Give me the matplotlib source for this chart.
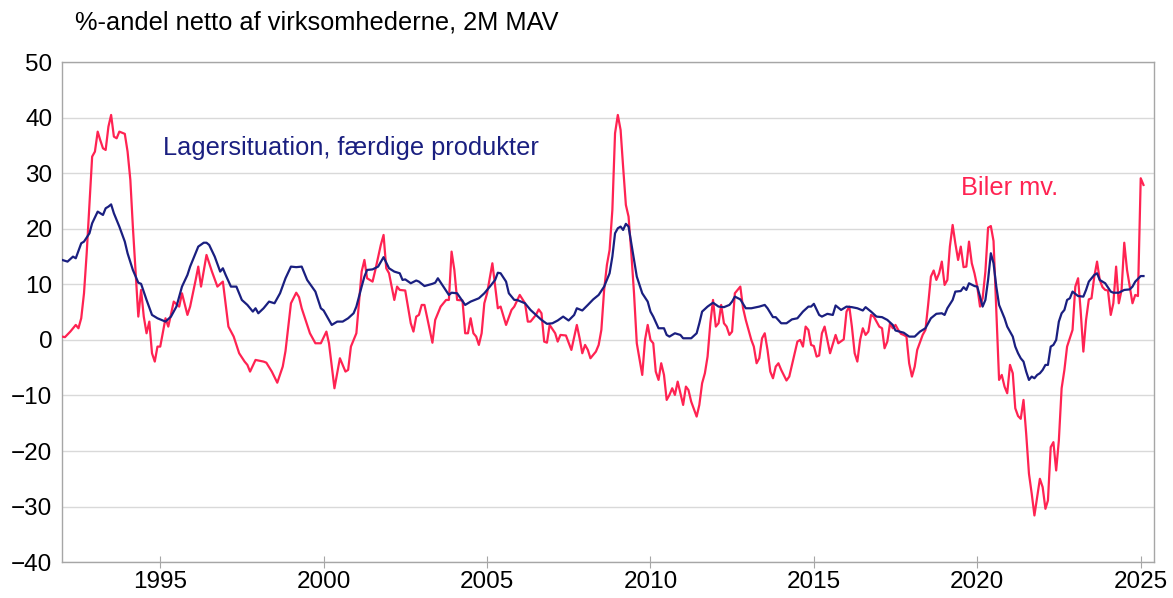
import pandas as pd
import matplotlib
matplotlib.use("Agg")
import matplotlib.pyplot as plt
import matplotlib.dates as mdates

# Lagersituation, faerdige produkter (month, net share %)
lager = [
    ("1992-01", 14.4), ("1992-03", 14.1), ("1992-05", 15.0), ("1992-06", 14.7), ("1992-08", 17.4), ("1992-09", 17.7), ("1992-11", 19.2), ("1992-12", 21.0),
    ("1993-02", 23.1), ("1993-04", 22.5), ("1993-05", 23.7), ("1993-06", 24.0), ("1993-07", 24.4), ("1993-08", 22.8), ("1993-10", 20.4), ("1993-12", 17.7),
    ("1994-01", 15.6), ("1994-03", 12.6), ("1994-05", 10.3), ("1994-06", 10.1), ("1994-08", 7.2), ("1994-10", 4.5), ("1994-12", 3.9),
    ("1995-03", 3.3), ("1995-05", 4.2), ("1995-07", 6.0), ("1995-09", 9.6), ("1995-11", 11.7), ("1995-12", 13.2),
    ("1996-03", 16.8), ("1996-05", 17.5), ("1996-06", 17.5), ("1996-07", 17.1), ("1996-09", 15.0), ("1996-11", 12.3), ("1996-12", 12.9),
    ("1997-01", 11.7), ("1997-03", 9.6), ("1997-05", 9.6), ("1997-07", 7.2), ("1997-09", 6.3), ("1997-11", 5.1), ("1997-12", 5.7),
    ("1998-01", 4.8), ("1998-03", 5.7), ("1998-05", 6.9), ("1998-07", 6.6), ("1998-09", 8.4), ("1998-11", 11.1),
    ("1999-01", 13.2), ("1999-03", 13.1), ("1999-05", 13.2), ("1999-07", 10.8), ("1999-10", 8.7), ("1999-12", 5.7),
    ("2000-01", 5.3), ("2000-04", 2.7), ("2000-06", 3.3), ("2000-08", 3.3), ("2000-10", 3.9), ("2000-12", 4.8),
    ("2001-01", 6.0), ("2001-03", 9.6), ("2001-04", 11.4), ("2001-05", 12.6), ("2001-07", 12.7), ("2001-09", 13.2), ("2001-11", 14.9),
    ("2002-01", 12.9), ("2002-03", 12.3), ("2002-05", 12.0), ("2002-06", 10.8), ("2002-07", 10.9), ("2002-09", 10.2), ("2002-11", 10.7), ("2002-12", 10.5),
    ("2003-02", 9.7), ("2003-05", 10.1), ("2003-06", 10.3), ("2003-07", 11.1), ("2003-09", 9.6), ("2003-11", 8.1), ("2003-12", 8.5),
    ("2004-02", 8.4), ("2004-05", 6.3), ("2004-07", 6.9), ("2004-10", 7.5), ("2004-12", 8.4),
    ("2005-02", 9.6), ("2005-04", 10.8), ("2005-05", 12.1), ("2005-06", 12.0), ("2005-08", 10.5), ("2005-09", 8.4), ("2005-11", 7.2), ("2005-12", 7.2),
    ("2006-03", 6.6), ("2006-05", 5.4), ("2006-07", 4.5), ("2006-09", 3.6), ("2006-11", 2.9),
    ("2007-01", 3.0), ("2007-03", 3.5), ("2007-05", 4.2), ("2007-07", 3.5), ("2007-09", 4.5), ("2007-10", 5.7), ("2007-12", 5.3),
    ("2008-02", 6.3), ("2008-04", 7.3), ("2008-06", 8.1), ("2008-08", 9.6), ("2008-10", 12.0), ("2008-11", 15.0), ("2008-12", 19.2),
    ("2009-01", 20.1), ("2009-02", 20.4), ("2009-03", 19.8), ("2009-04", 20.9), ("2009-05", 20.4), ("2009-06", 17.4), ("2009-07", 14.4), ("2009-08", 11.4), ("2009-10", 8.4), ("2009-12", 6.9),
    ("2010-01", 5.1), ("2010-02", 4.2), ("2010-04", 2.1), ("2010-06", 2.1), ("2010-07", 0.9), ("2010-08", 0.6), ("2010-10", 1.2), ("2010-12", 0.9),
    ("2011-01", 0.3), ("2011-04", 0.3), ("2011-06", 1.2), ("2011-07", 3.0), ("2011-08", 5.1), ("2011-10", 6.0), ("2011-12", 6.7),
    ("2012-02", 6.0), ("2012-04", 5.9), ("2012-06", 6.3), ("2012-07", 6.9), ("2012-08", 7.8), ("2012-10", 7.3), ("2012-12", 5.7),
    ("2013-02", 5.7), ("2013-05", 6.0), ("2013-07", 6.3), ("2013-08", 5.7), ("2013-10", 4.1), ("2013-11", 4.1),
    ("2014-01", 3.0), ("2014-03", 3.0), ("2014-05", 3.7), ("2014-07", 3.9), ("2014-09", 5.1), ("2014-11", 6.0), ("2014-12", 6.0),
    ("2015-01", 6.5), ("2015-03", 4.5), ("2015-04", 4.2), ("2015-06", 4.7), ("2015-08", 4.5), ("2015-09", 6.2), ("2015-11", 5.4),
    ("2016-01", 6.0), ("2016-03", 5.9), ("2016-05", 5.7), ("2016-07", 5.3), ("2016-08", 5.9), ("2016-10", 5.1), ("2016-12", 4.2),
    ("2017-02", 4.1), ("2017-04", 3.6), ("2017-06", 2.7), ("2017-07", 1.7), ("2017-10", 1.3), ("2017-12", 0.6),
    ("2018-02", 0.6), ("2018-04", 1.5), ("2018-06", 2.1), ("2018-07", 3.0), ("2018-08", 3.9), ("2018-10", 4.7), ("2018-12", 4.8),
    ("2019-01", 4.5), ("2019-02", 5.7), ("2019-04", 7.2), ("2019-05", 8.7), ("2019-07", 8.8), ("2019-08", 9.5), ("2019-09", 9.0), ("2019-10", 10.2), ("2019-12", 9.7),
    ("2020-01", 9.6), ("2020-02", 7.8), ("2020-03", 6.0), ("2020-04", 7.2), ("2020-05", 10.8), ("2020-06", 15.6), ("2020-07", 13.8), ("2020-08", 9.6), ("2020-09", 6.3), ("2020-11", 3.9), ("2020-12", 2.4),
    ("2021-01", 1.5), ("2021-02", 0.6), ("2021-03", -1.2), ("2021-04", -2.4), ("2021-05", -3.3), ("2021-06", -3.9), ("2021-07", -5.7), ("2021-08", -7.2), ("2021-09", -6.6), ("2021-10", -6.9), ("2021-11", -6.3), ("2021-12", -6.0),
    ("2022-01", -5.4), ("2022-02", -4.5), ("2022-03", -4.5), ("2022-04", -1.2), ("2022-05", -0.9), ("2022-06", 0.0), ("2022-07", 3.3), ("2022-08", 4.8), ("2022-09", 5.4), ("2022-10", 7.2), ("2022-11", 7.5), ("2022-12", 8.7),
    ("2023-02", 7.9), ("2023-04", 7.8), ("2023-05", 9.0), ("2023-06", 10.5), ("2023-08", 11.7), ("2023-09", 12.0), ("2023-10", 10.8), ("2023-12", 10.2),
    ("2024-02", 8.7), ("2024-03", 8.5), ("2024-05", 8.5), ("2024-07", 9.0), ("2024-09", 9.1), ("2024-10", 9.6), ("2024-11", 10.5),
    ("2025-01", 11.5), ("2025-02", 11.5),
]

# Biler mv. (month, net share %)
biler = [
    ("1992-01", 0.6), ("1992-02", 0.5), ("1992-04", 1.5), ("1992-06", 2.7), ("1992-07", 2.1), ("1992-08", 3.9), ("1992-09", 8.4), ("1992-10", 15.6), ("1992-11", 24.6), ("1992-12", 33.0),
    ("1993-01", 33.9), ("1993-02", 37.5), ("1993-03", 36.0), ("1993-04", 34.5), ("1993-05", 34.2), ("1993-06", 38.4), ("1993-07", 40.5), ("1993-08", 36.6), ("1993-09", 36.3), ("1993-10", 37.5), ("1993-11", 37.3), ("1993-12", 37.1),
    ("1994-01", 33.9), ("1994-02", 28.8), ("1994-03", 20.4), ("1994-05", 4.2), ("1994-06", 9.0), ("1994-07", 4.2), ("1994-08", 1.2), ("1994-09", 3.3), ("1994-10", -2.4), ("1994-11", -3.9), ("1994-12", -1.2),
    ("1995-01", -1.2), ("1995-03", 3.9), ("1995-04", 2.4), ("1995-06", 6.9), ("1995-08", 6.0), ("1995-09", 8.4), ("1995-11", 4.5), ("1995-12", 6.0),
    ("1996-02", 10.8), ("1996-03", 13.2), ("1996-04", 9.6), ("1996-06", 15.3), ("1996-08", 12.3), ("1996-10", 9.6), ("1996-12", 10.5),
    ("1997-02", 2.4), ("1997-04", 0.6), ("1997-06", -2.4), ("1997-08", -3.9), ("1997-09", -4.5), ("1997-10", -5.7), ("1997-12", -3.6),
    ("1998-03", -3.9), ("1998-04", -4.1), ("1998-06", -5.7), ("1998-08", -7.7), ("1998-10", -4.8), ("1998-11", -2.0),
    ("1999-01", 6.6), ("1999-03", 8.5), ("1999-04", 7.7), ("1999-05", 5.7), ("1999-08", 1.2), ("1999-10", -0.6), ("1999-12", -0.6),
    ("2000-02", 1.5), ("2000-03", -0.6), ("2000-05", -8.7), ("2000-07", -3.3), ("2000-09", -5.7), ("2000-10", -5.4), ("2000-11", -1.2),
    ("2001-01", 1.2), ("2001-03", 12.3), ("2001-04", 14.4), ("2001-05", 11.1), ("2001-07", 10.5), ("2001-08", 12.6), ("2001-10", 17.1), ("2001-11", 18.9), ("2001-12", 12.9),
    ("2002-01", 12.0), ("2002-03", 7.2), ("2002-04", 9.6), ("2002-05", 9.0), ("2002-07", 8.9), ("2002-09", 3.0), ("2002-10", 1.5), ("2002-11", 4.2), ("2002-12", 4.5),
    ("2003-01", 6.3), ("2003-02", 6.3), ("2003-03", 4.2), ("2003-05", -0.5), ("2003-06", 3.6), ("2003-08", 6.0), ("2003-10", 7.2), ("2003-11", 7.2), ("2003-12", 15.9),
    ("2004-01", 12.6), ("2004-02", 7.2), ("2004-04", 7.1), ("2004-05", 1.2), ("2004-06", 1.2), ("2004-07", 3.9), ("2004-08", 1.2), ("2004-09", 0.6), ("2004-10", -0.9), ("2004-11", 1.2), ("2004-12", 6.6),
    ("2005-01", 8.4), ("2005-03", 13.8), ("2005-04", 9.6), ("2005-05", 5.7), ("2005-06", 6.0), ("2005-08", 2.7), ("2005-10", 5.4), ("2005-11", 6.0),
    ("2006-01", 8.1), ("2006-03", 6.6), ("2006-04", 3.3), ("2006-05", 3.3), ("2006-07", 4.5), ("2006-08", 5.5), ("2006-09", 4.8), ("2006-10", -0.3), ("2006-11", -0.5), ("2006-12", 2.7),
    ("2007-02", 1.2), ("2007-03", -0.3), ("2007-04", 0.9), ("2007-06", 0.8), ("2007-08", -1.8), ("2007-10", 2.7), ("2007-11", 0.3), ("2007-12", -2.4),
    ("2008-01", -0.9), ("2008-02", -1.8), ("2008-03", -3.3), ("2008-05", -2.1), ("2008-06", -0.9), ("2008-07", 1.8), ("2008-08", 9.0), ("2008-09", 13.5), ("2008-10", 16.2), ("2008-11", 23.4), ("2008-12", 37.2),
    ("2009-01", 40.5), ("2009-02", 37.8), ("2009-03", 31.2), ("2009-04", 24.3), ("2009-05", 22.2), ("2009-06", 15.6), ("2009-07", 8.4), ("2009-08", -0.6), ("2009-10", -6.3), ("2009-11", 0.0), ("2009-12", 2.7),
    ("2010-01", 0.0), ("2010-02", -0.6), ("2010-03", -5.7), ("2010-04", -7.2), ("2010-05", -4.2), ("2010-06", -6.3), ("2010-07", -10.8), ("2010-08", -9.9), ("2010-09", -8.7), ("2010-10", -9.9), ("2010-11", -7.5), ("2010-12", -9.6),
    ("2011-01", -11.7), ("2011-02", -8.4), ("2011-03", -9.0), ("2011-04", -11.1), ("2011-06", -13.8), ("2011-07", -11.7), ("2011-08", -7.8), ("2011-09", -6.0), ("2011-10", -3.0), ("2011-11", 3.0), ("2011-12", 7.2),
    ("2012-01", 2.4), ("2012-02", 3.0), ("2012-03", 6.3), ("2012-04", 3.0), ("2012-05", 2.4), ("2012-06", 0.9), ("2012-07", 1.5), ("2012-08", 8.4), ("2012-10", 9.6), ("2012-11", 5.7), ("2012-12", 3.6),
    ("2013-02", 0.0), ("2013-03", -1.2), ("2013-04", -4.2), ("2013-05", -3.3), ("2013-06", 0.3), ("2013-07", 1.2), ("2013-08", -1.8), ("2013-09", -5.7), ("2013-10", -6.9), ("2013-11", -4.8), ("2013-12", -4.2),
    ("2014-01", -5.4), ("2014-03", -7.3), ("2014-04", -6.6), ("2014-05", -4.5), ("2014-07", -0.3), ("2014-08", 0.0), ("2014-09", -1.2), ("2014-10", 2.4), ("2014-11", 1.8), ("2014-12", -0.9),
    ("2015-01", -1.1), ("2015-02", -3.0), ("2015-03", -2.8), ("2015-04", 1.2), ("2015-05", 2.4), ("2015-06", 0.0), ("2015-07", -2.4), ("2015-09", 0.9), ("2015-10", -0.6), ("2015-12", 0.1),
    ("2016-01", 5.1), ("2016-02", 6.0), ("2016-03", 2.4), ("2016-04", -2.4), ("2016-05", -3.9), ("2016-06", 0.0), ("2016-07", 2.1), ("2016-08", 0.9), ("2016-09", 1.5), ("2016-10", 4.5), ("2016-11", 4.2),
    ("2017-01", 2.4), ("2017-02", 2.1), ("2017-03", -1.5), ("2017-04", -0.3), ("2017-05", 3.0), ("2017-06", 2.1), ("2017-07", 2.7), ("2017-08", 1.8), ("2017-09", 1.1), ("2017-10", 0.9), ("2017-11", 0.6), ("2017-12", -4.2),
    ("2018-01", -6.6), ("2018-02", -4.8), ("2018-03", -1.8), ("2018-05", 0.9), ("2018-06", 1.8), ("2018-07", 6.3), ("2018-08", 11.4), ("2018-09", 12.5), ("2018-10", 10.8), ("2018-11", 12.0), ("2018-12", 14.1),
    ("2019-01", 9.9), ("2019-02", 10.8), ("2019-03", 16.8), ("2019-04", 20.7), ("2019-05", 17.4), ("2019-06", 14.4), ("2019-07", 16.8), ("2019-08", 13.1), ("2019-09", 13.2), ("2019-10", 17.7), ("2019-11", 13.8), ("2019-12", 12.0),
    ("2020-01", 9.6), ("2020-02", 6.0), ("2020-03", 7.5), ("2020-04", 12.3), ("2020-05", 20.2), ("2020-06", 20.5), ("2020-07", 17.8), ("2020-09", -7.2), ("2020-10", -6.3), ("2020-11", -8.4), ("2020-12", -9.6),
    ("2021-01", -4.5), ("2021-02", -6.0), ("2021-03", -12.3), ("2021-04", -13.7), ("2021-05", -14.2), ("2021-06", -10.8), ("2021-07", -16.9), ("2021-08", -24.1), ("2021-09", -27.7), ("2021-10", -31.6), ("2021-11", -28.3), ("2021-12", -25.0),
    ("2022-01", -26.5), ("2022-02", -30.4), ("2022-03", -28.9), ("2022-04", -19.3), ("2022-05", -18.4), ("2022-06", -23.5), ("2022-07", -18.1), ("2022-08", -8.7), ("2022-09", -5.4), ("2022-10", -1.2), ("2022-11", 0.3), ("2022-12", 1.8),
    ("2023-01", 9.6), ("2023-02", 11.1), ("2023-03", 5.4), ("2023-04", -2.1), ("2023-05", 3.6), ("2023-06", 7.3), ("2023-07", 7.5), ("2023-08", 11.4), ("2023-09", 14.1), ("2023-10", 10.8), ("2023-11", 9.5), ("2023-12", 9.0),
    ("2024-01", 8.9), ("2024-02", 4.5), ("2024-03", 6.6), ("2024-04", 13.2), ("2024-05", 6.6), ("2024-06", 9.0), ("2024-07", 17.5), ("2024-08", 12.6), ("2024-10", 6.6), ("2024-11", 8.1), ("2024-12", 7.9),
    ("2025-01", 29.1), ("2025-02", 27.9),
]

y_ticks = [-40, -30, -20, -10, 0, 10, 20, 30, 40, 50]

navy = "#1a1f80"
red = "#ff2352"

plt.rcParams["font.family"] = ["Liberation Sans", "DejaVu Sans"]

lager_x = pd.to_datetime([d for d, v in lager])
lager_y = [v for d, v in lager]
biler_x = pd.to_datetime([d for d, v in biler])
biler_y = [v for d, v in biler]

fig = plt.figure(figsize=(11.73, 5.98), dpi=100)
ax = fig.add_axes([0.053, 0.060, 0.931, 0.836])

ax.plot(biler_x, biler_y, color=red, lw=1.6, zorder=3)
ax.plot(lager_x, lager_y, color=navy, lw=1.6, zorder=4)

ax.set_ylim(-40, 50)
ax.set_yticks(y_ticks)
ax.set_xlim(pd.Timestamp("1992-01-01"), pd.Timestamp("2025-06-01"))
ax.xaxis.set_major_locator(mdates.YearLocator(5))
ax.xaxis.set_major_formatter(mdates.DateFormatter("%Y"))

ax.grid(axis="y", color="#d9d9d9", lw=1)
ax.set_axisbelow(True)
for s in ax.spines.values():
    s.set_color("#a6a6a6")
    s.set_linewidth(1)
ax.tick_params(axis="x", direction="inout", length=9, color="#a6a6a6", labelsize=17.5, pad=2)
ax.tick_params(axis="y", length=0, labelsize=17.5, pad=7)

ax.text(pd.Timestamp("1995-02-01"), 34.5, "Lagersituation, færdige produkter",
        color=navy, fontsize=18.3, va="center", ha="left")
ax.text(pd.Timestamp("2019-07-01"), 27.3, "Biler mv.",
        color=red, fontsize=18.3, va="center", ha="left")

fig.text(0.064, 0.962, "%-andel netto af virksomhederne, 2M MAV", fontsize=18.3,
         va="center", ha="left")

fig.savefig("out.png", dpi=100)
